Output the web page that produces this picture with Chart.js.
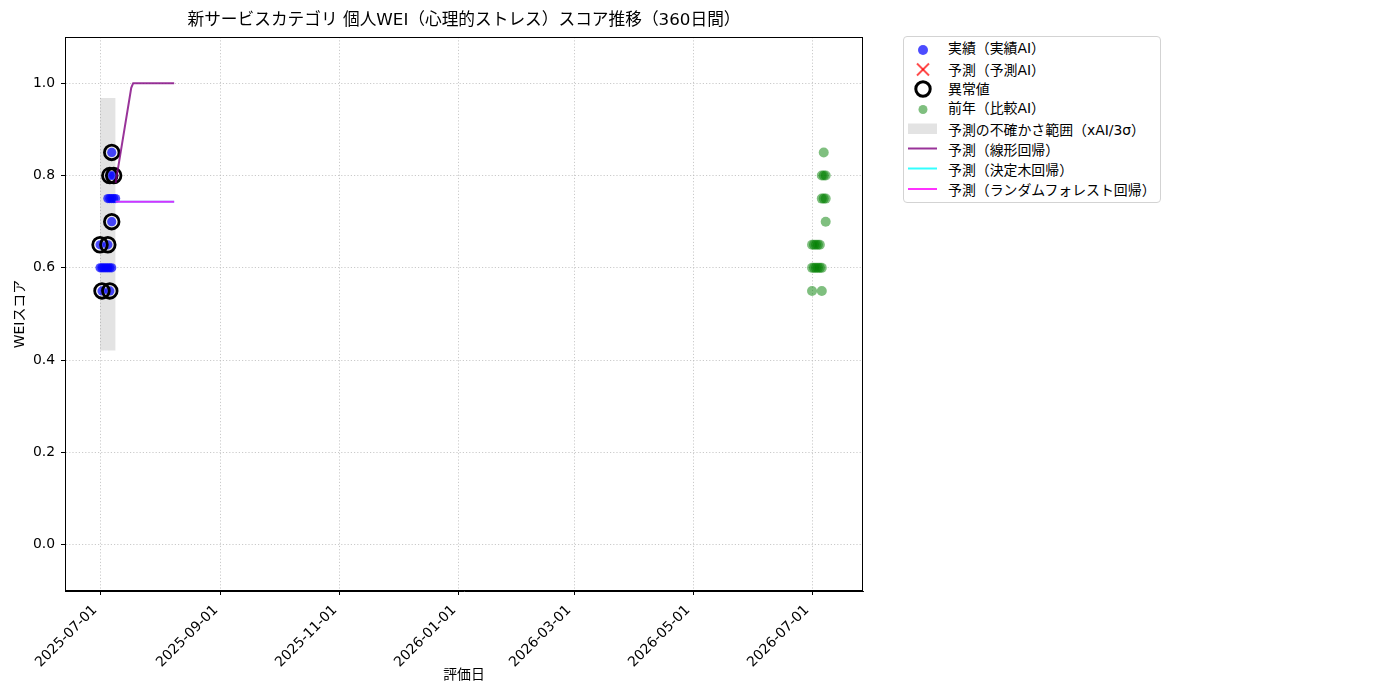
<!DOCTYPE html>
<html><head><meta charset="utf-8">
<script src="https://cdn.jsdelivr.net/npm/chart.js@4.4.1/dist/chart.umd.min.js"></script>
<style>
body{margin:0;background:#fff;}
#wrap{position:relative;width:1400px;height:700px;}
#legend{position:absolute;left:903px;top:36px;width:258px;height:167px;border:1px solid #d3d3d3;border-radius:4px;box-sizing:border-box;background:#fff;font-family:"DejaVu Sans","Noto Sans CJK JP",sans-serif;font-size:13.9px;color:#000;}
#legend svg{position:absolute;left:-1px;top:-1px;}
.row{position:absolute;left:44px;line-height:18px;white-space:nowrap;transform:translateY(-50%);}
</style></head>
<body>
<div id="wrap">
<canvas id="c" width="1400" height="700"></canvas>
<div id="legend"></div>
</div>
<script>
// ---- data ----
const titleText = '新サービスカテゴリ 個人WEI（心理的ストレス）スコア推移（360日間）';
const xTitle = '評価日';
const yTitle = 'WEIスコア';
const xTickLabels = ['2025-07-01','2025-09-01','2025-11-01','2026-01-01','2026-03-01','2026-05-01','2026-07-01'];
const yTickValues = [0.0, 0.2, 0.4, 0.6, 0.8, 1.0];

const actualDates  = ['2025-07-07','2025-07-06','2025-07-08','2025-07-05','2025-07-06','2025-07-07','2025-07-08','2025-07-09','2025-07-07','2025-07-01','2025-07-05','2025-07-01','2025-07-02','2025-07-03','2025-07-04','2025-07-05','2025-07-06','2025-07-07','2025-07-02','2025-07-06'];
const actualScores = [0.85,0.80,0.80,0.75,0.75,0.75,0.75,0.75,0.70,0.65,0.65,0.60,0.60,0.60,0.60,0.60,0.60,0.60,0.55,0.55];

const predDates = [];
const predScores = [];

const anomalyDates  = ['2025-07-07','2025-07-06','2025-07-08','2025-07-07','2025-07-01','2025-07-05','2025-07-02','2025-07-06'];
const anomalyScores = [0.85,0.80,0.80,0.70,0.65,0.65,0.55,0.55];

const prevDates  = ['2026-07-07','2026-07-06','2026-07-07','2026-07-08','2026-07-06','2026-07-07','2026-07-08','2026-07-08','2026-07-01','2026-07-02','2026-07-03','2026-07-04','2026-07-05','2026-07-01','2026-07-02','2026-07-03','2026-07-04','2026-07-05','2026-07-06','2026-07-01','2026-07-06'];
const prevScores = [0.85,0.80,0.80,0.80,0.75,0.75,0.75,0.70,0.65,0.65,0.65,0.65,0.65,0.60,0.60,0.60,0.60,0.60,0.60,0.55,0.55];

const bandDates = ['2025-07-01','2025-07-09'];
const bandLower = [0.421, 0.421];
const bandUpper = [0.968, 0.968];

const linDates  = ['2025-07-09','2025-07-17','2025-07-18','2025-08-08'];
const linScores = [0.784, 0.990, 1.000, 1.000];
const treeDates  = ['2025-07-09','2025-08-08'];
const treeScores = [0.743, 0.743];
const rfDates  = ['2025-07-09','2025-08-08'];
const rfScores = [0.743, 0.743];

const legendLabels = ['実績（実績AI）','予測（予測AI）','異常値','前年（比較AI）','予測の不確かさ範囲（xAI/3σ）','予測（線形回帰）','予測（決定木回帰）','予測（ランダムフォレスト回帰）'];

// ---- helpers ----
const FONT = '"DejaVu Sans","Noto Sans CJK JP",sans-serif';
const t = s => { const [y,m,d] = s.split('-').map(Number); return Date.UTC(y, m-1, d); };
const pts = (ds, vs) => ds.map((d,i) => ({x: t(d), y: vs[i]}));
const fmt = v => new Date(v).toISOString().slice(0,10);

const C = {
  blue: 'rgba(0,0,255,0.7)', red: 'rgba(255,0,0,0.7)', green: 'rgba(0,128,0,0.5)',
  band: 'rgba(128,128,128,0.22)', purple: 'rgba(128,0,128,0.8)', cyan: 'rgba(0,255,255,0.8)', magenta: 'rgba(255,0,255,0.8)'
};

Chart.defaults.font.family = FONT;
Chart.defaults.color = '#000';

const frame = {
  id: 'frame',
  afterDraw(c) {
    const {ctx, chartArea: a} = c;
    ctx.save();
    ctx.strokeStyle = '#000'; ctx.lineWidth = 1;
    ctx.strokeRect(Math.round(a.left) + 0.5, Math.round(a.top) + 0.5, Math.round(a.right - a.left) - 1, Math.round(a.bottom - a.top) - 1);
    ctx.restore();
  }
};

new Chart(document.getElementById('c'), {
  type: 'scatter',
  data: {
    datasets: [
      {label: 'bandLow', type: 'line', data: pts(bandDates, bandLower), borderWidth: 0, pointRadius: 0, borderColor: 'rgba(0,0,0,0)', fill: false, order: 20},
      {label: legendLabels[4], type: 'line', data: pts(bandDates, bandUpper), borderWidth: 0, pointRadius: 0, borderColor: 'rgba(0,0,0,0)', backgroundColor: C.band, fill: '-1', order: 19},
      {label: legendLabels[0], data: pts(actualDates, actualScores), backgroundColor: C.blue, borderWidth: 0, pointRadius: 4.6, order: 8},
      {label: legendLabels[1], data: pts(predDates, predScores), pointStyle: 'crossRot', borderColor: C.red, borderWidth: 2, pointRadius: 6, order: 7},
      {label: legendLabels[2], data: pts(anomalyDates, anomalyScores), backgroundColor: 'rgba(0,0,0,0)', borderColor: '#000', borderWidth: 2.8, pointRadius: 7.3, order: 6},
      {label: legendLabels[3], data: pts(prevDates, prevScores), backgroundColor: C.green, borderWidth: 0, pointRadius: 5, order: 9},
      {label: legendLabels[5], type: 'line', data: pts(linDates, linScores), borderColor: C.purple, borderWidth: 2, pointRadius: 0, fill: false, order: 3},
      {label: legendLabels[6], type: 'line', data: pts(treeDates, treeScores), borderColor: C.cyan, borderWidth: 2, pointRadius: 0, fill: false, order: 2},
      {label: legendLabels[7], type: 'line', data: pts(rfDates, rfScores), borderColor: C.magenta, borderWidth: 2, pointRadius: 0, fill: false, order: 1}
    ]
  },
  options: {
    responsive: false,
    animation: false,
    devicePixelRatio: 1,
    layout: {padding: {left: 0, right: 537, top: 0, bottom: 0}},
    plugins: {
      legend: {display: false},
      tooltip: {enabled: false},
      title: {display: true, text: titleText, fullSize: false, color: '#000', font: {size: 16.7, weight: 'normal', family: FONT, lineHeight: 1.2}, padding: {top: 11, bottom: 6}}
    },
    scales: {
      x: {
        type: 'linear',
        min: Date.UTC(2025, 5, 13, 1),
        max: Date.UTC(2026, 6, 27, 3),
        afterFit(s) { s.height = 109; },
        afterBuildTicks(s) { s.ticks = xTickLabels.map(d => ({value: t(d)})); },
        ticks: {autoSkip: false, minRotation: 45, maxRotation: 45, padding: 7, labelOffset: -5, font: {size: 13.9}, color: '#000', callback: v => fmt(v)},
        grid: {color: 'rgba(176,176,176,0.75)', lineWidth: 0.9, tickColor: '#000', tickLength: 4, tickWidth: 1, tickBorderDash: []},
        border: {display: true, color: '#000', width: 1, dash: [1.2, 2]},
        title: {display: true, text: xTitle, color: '#000', font: {size: 13.9}, padding: {top: 2, bottom: 16}}
      },
      y: {
        type: 'linear',
        min: -0.1, max: 1.1,
        afterFit(s) { s.width = 65; },
        afterBuildTicks(s) { s.ticks = yTickValues.map(v => ({value: v})); },
        ticks: {padding: 6, font: {size: 13.9}, color: '#000', callback: v => Number(v).toFixed(1)},
        grid: {color: 'rgba(176,176,176,0.75)', lineWidth: 0.9, tickColor: '#000', tickLength: 4, tickWidth: 1, tickBorderDash: []},
        border: {display: true, color: '#000', width: 1, dash: [1.2, 2]},
        title: {display: true, text: yTitle, color: '#000', font: {size: 13.9}, padding: {top: 12, bottom: 0}}
      }
    }
  },
  plugins: [frame]
});

// ---- legend (HTML) ----
const lg = document.getElementById('legend');
const rowY = [11, 33, 52, 71, 93, 113, 133, 153];
lg.innerHTML =
  '<svg width="60" height="170" xmlns="http://www.w3.org/2000/svg">' +
  `<circle cx="20" cy="14" r="5" fill="${C.blue}"/>` +
  `<g stroke="${C.red}" stroke-width="2"><line x1="14" y1="27.5" x2="26" y2="39.5"/><line x1="26" y1="27.5" x2="14" y2="39.5"/></g>` +
  `<circle cx="20" cy="53" r="7.2" fill="none" stroke="#000" stroke-width="3"/>` +
  `<circle cx="20" cy="73.5" r="4.5" fill="${C.green}"/>` +
  `<rect x="5" y="87.5" width="29" height="10.5" fill="${C.band}"/>` +
  `<line x1="5" y1="112.5" x2="34" y2="112.5" stroke="${C.purple}" stroke-width="2"/>` +
  `<line x1="5" y1="132.5" x2="34" y2="132.5" stroke="${C.cyan}" stroke-width="2"/>` +
  `<line x1="5" y1="153" x2="34" y2="153" stroke="${C.magenta}" stroke-width="2"/>` +
  '</svg>' +
  legendLabels.map((s, i) => `<div class="row" style="top:${rowY[i]}px">${s}</div>`).join('');
</script>
</body></html>
